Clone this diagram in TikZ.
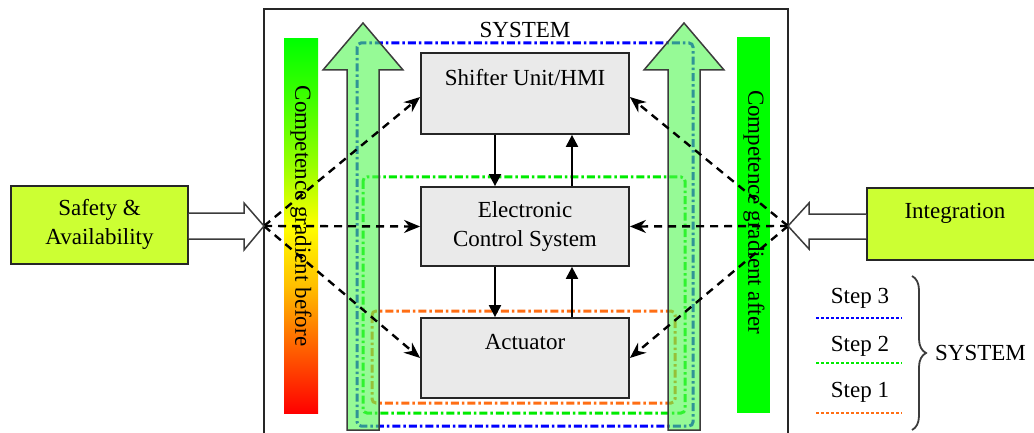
\documentclass[tikz,border=0pt]{standalone}
\usepackage{fontspec}
\setmainfont{Liberation Serif}
\usetikzlibrary{arrows.meta,decorations.pathreplacing,calc}
\definecolor{boxgray}{RGB}{234,234,234}
\definecolor{ygreen}{RGB}{204,255,51}
\definecolor{arrgreen}{RGB}{80,247,80}
\definecolor{stepblue}{RGB}{0,0,255}
\definecolor{stepgreen}{RGB}{0,235,0}
\definecolor{steporange}{RGB}{255,110,20}
\definecolor{edgegray}{RGB}{60,60,60}
\pgfdeclareverticalshading{gradbar}{100bp}{rgb(0bp)=(1,0,0); rgb(25bp)=(1,0,0); rgb(33bp)=(1,0.35,0); rgb(42bp)=(1,0.75,0); rgb(50bp)=(1,1,0); rgb(58bp)=(0.6,1,0); rgb(67bp)=(0.25,1,0); rgb(75bp)=(0,1,0); rgb(100bp)=(0,1,0)}
\begin{document}
\begin{tikzpicture}[x=1pt,y=-1pt,
  box/.style={draw=black!85, line width=1.8pt, fill=boxgray, minimum width=208pt, inner sep=0pt},
  sidebox/.style={draw=black!85, line width=1.8pt, fill=ygreen, inner sep=0pt},
  txt/.style={font=\fontsize{23}{29}\selectfont, align=center, inner sep=0pt},
  dasharrow/.style={line width=2.4pt, dash pattern=on 8pt off 6pt, -{Stealth[length=16pt,width=13pt]}},
  solidarrow/.style={line width=2.2pt, -{Triangle[length=12pt,width=12pt]}},
  stepline/.style={line width=3pt, dash pattern=on 8pt off 3pt on 2.5pt off 3pt, rounded corners=4pt},
  legline/.style={line width=2.6pt, dash pattern=on 2.5pt off 2.5pt},
  bigarrow/.style={fill=arrgreen, fill opacity=0.6, draw=edgegray, line width=1.5pt, line join=miter},
  hollow/.style={fill=white, draw=edgegray, line width=1.5pt}
]
\useasboundingbox (0,0) rectangle (1034,433);

% outer system frame
\draw[line width=1.8pt, black!85] (264,440) -- (264,9) -- (788,9) -- (788,440);
\node[txt] (systitle) at (525,30) {SYSTEM};

% gradient bars
\path[shading=gradbar] (284,39) rectangle (318,413);
\fill[green] (737,37) rectangle (770,413);
\node[txt, rotate=-90] (gradbefore) at (301,216) {Competence gradient before};
\node[txt, rotate=-90] (gradafter) at (754,212) {Competence gradient after};

% step rectangles
\draw[stepline, stepblue] (357,43) rectangle (693,426);
\draw[stepline, stepgreen] (363,177) rectangle (685,413);
\draw[stepline, steporange] (372,311) rectangle (675,403);

% big green arrows
\draw[bigarrow] (347,430) -- (347,70) -- (323,70) -- (363,23) -- (403,70) -- (379,70) -- (379,430) -- cycle;
\draw[bigarrow] (668,430) -- (668,70) -- (644,70) -- (684,23) -- (724,70) -- (700,70) -- (700,430) -- cycle;

% main boxes
\node[box, minimum height=81pt] (shifter) at (525,93.5) {};
\node[txt] (shiftert) at (525,78) {Shifter Unit/HMI};
\node[box, minimum height=79pt, txt, draw=black!85, line width=1.8pt, fill=boxgray, minimum width=208pt] (ecs) at (525,226.5) {Electronic\\Control System};
\node[box, minimum height=80pt] (act) at (525,358) {};
\node[txt] (actt) at (525,342) {Actuator};

% vertical arrows
\draw[solidarrow] (shifter.south -| 495,0) -- (ecs.north -| 495,0);
\draw[solidarrow] (ecs.north -| 572,0) -- (shifter.south -| 572,0);
\draw[solidarrow] (ecs.south -| 495,0) -- (act.north -| 495,0);
\draw[solidarrow] (act.north -| 572,0) -- (ecs.south -| 572,0);

% junctions
\coordinate (L) at (264,226);
\coordinate (R) at (788,226);

% dashed arrows
\draw[dasharrow] (L) -- ($(shifter.west)+(0,3.5)$);
\draw[dasharrow] (L) -- (ecs.west);
\draw[dasharrow] (L) -- (act.west);
\draw[dasharrow] (R) -- ($(shifter.east)+(0,3.5)$);
\draw[dasharrow] (R) -- (ecs.east);
\draw[dasharrow] (R) -- (act.east);

% side boxes
\node[sidebox, minimum width=177pt, minimum height=78pt] (safety) at (99.5,225) {};
\node[txt] (safetyt) at (99.5,224) {Safety \&\\Availability};
\node[sidebox, minimum width=170pt, minimum height=72pt] (integ) at (952,224) {};
\node[txt] (integt) at (955,213) {Integration};

% hollow arrows
\draw[hollow] (safety.east |- 0,213) -- (244,213) -- (244,203) -- (L) -- (244,250) -- (244,239) -- (safety.east |- 0,239);
\draw[hollow] (integ.west |- 0,214) -- (809,214) -- (809,203) -- (R) -- (809,249) -- (809,239) -- (integ.west |- 0,239);

% legend
\node[txt] (s3) at (860,298) {Step 3};
\node[txt] (s2) at (860,346) {Step 2};
\node[txt] (s1) at (860,392) {Step 1};
\draw[legline, stepblue] (816,318) -- (902,318);
\draw[legline, stepgreen] (816,363) -- (902,363);
\draw[legline, steporange] (816,413) -- (902,413);
\draw[decorate, decoration={brace, amplitude=14pt}, line width=1.8pt, edgegray] (912,276) -- (912,430);
\node[txt, anchor=west] (legsys) at (935,353) {SYSTEM};
\end{tikzpicture}
\end{document}
